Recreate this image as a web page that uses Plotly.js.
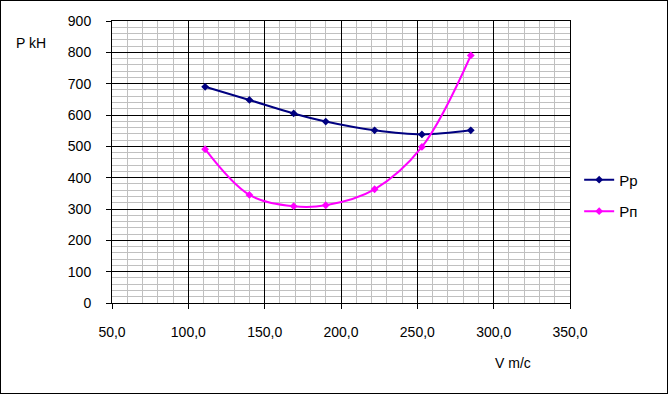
<!DOCTYPE html>
<html>
<head>
<meta charset="utf-8">
<script src="https://cdn.plot.ly/plotly-3.0.1.min.js"></script>
<style>
  html, body { margin: 0; padding: 0; background: #fff; }
  #wrap { position: relative; width: 668px; height: 394px; }
  #chart { width: 668px; height: 394px; }
  #frame { position: absolute; left: 0; top: 0; width: 666px; height: 392px; border: 1px solid #000; pointer-events: none; }
</style>
</head>
<body>
<div id="wrap"><div id="chart"></div><div id="frame"></div></div>
<script>
const speeds = [111, 140, 169, 190, 222, 253, 285];
const seriesPp = [690, 648, 605, 579, 551, 538, 551];
const seriesPn = [491, 345, 309, 312, 363, 498, 790];
const seriesNames = ["Pp", "Pп"];
const xTickVals = [50, 100, 150, 200, 250, 300, 350];
const xTickText = ["50,0", "100,0", "150,0", "200,0", "250,0", "300,0", "350,0"];

const font = { family: "Liberation Sans, Arial, sans-serif", size: 14, color: "#000" };

const traces = [
  { x: speeds, y: seriesPp, name: seriesNames[0], type: "scatter", mode: "lines+markers",
    line: { color: "#000080", width: 2, shape: "spline", smoothing: 1 },
    marker: { color: "#000080", size: 6, symbol: "diamond" }, legendgroup: "a" },
  { x: speeds, y: seriesPn, name: seriesNames[1], type: "scatter", mode: "lines+markers",
    line: { color: "#FF00FF", width: 2, shape: "spline", smoothing: 1 },
    marker: { color: "#FF00FF", size: 6, symbol: "diamond" }, legendgroup: "b" }
];

const layout = {
  width: 668, height: 394,
  margin: { l: 112, r: 98, t: 21, b: 91, pad: 0 },
  paper_bgcolor: "#fff", plot_bgcolor: "#fff",
  font: font,
  showlegend: true,
  legend: { x: 1.02, y: 0.495, xanchor: "left", yanchor: "top", font: { family: font.family, size: 15, color: "#000" },
            tracegroupgap: 9, bgcolor: "rgba(0,0,0,0)" },
  xaxis: {
    range: [50, 350], tickvals: xTickVals, ticktext: xTickText,
    showgrid: true, gridcolor: "#000", gridwidth: 1,
    minor: { dtick: 10, showgrid: true, gridcolor: "#c0c0c0", gridwidth: 1 },
    showline: true, linecolor: "#000", linewidth: 1, mirror: true,
    ticks: "outside", ticklen: 5, tickcolor: "#000", ticklabelstandoff: 11,
    zeroline: false, tickfont: font, fixedrange: true
  },
  yaxis: {
    range: [0, 900], dtick: 100, tick0: 0,
    showgrid: true, gridcolor: "#000", gridwidth: 1,
    minor: { dtick: 20, showgrid: true, gridcolor: "#c0c0c0", gridwidth: 1 },
    showline: true, linecolor: "#000", linewidth: 1, mirror: true,
    ticks: "outside", ticklen: 5, tickcolor: "#000", ticklabelstandoff: 12,
    zeroline: false, tickfont: font, fixedrange: true
  },
  annotations: [
    { text: "P kH", xref: "paper", yref: "paper", x: -0.215, y: 0.922, xanchor: "left", yanchor: "middle",
      showarrow: false, font: { family: font.family, size: 14, color: "#000" } },
    { text: "V m/c", xref: "paper", yref: "paper", x: 0.8755, y: -0.213, xanchor: "center", yanchor: "middle",
      showarrow: false, font: { family: font.family, size: 14, color: "#000" } }
  ]
};

Plotly.newPlot("chart", traces, layout, { displayModeBar: false, staticPlot: true });
</script>
</body>
</html>
